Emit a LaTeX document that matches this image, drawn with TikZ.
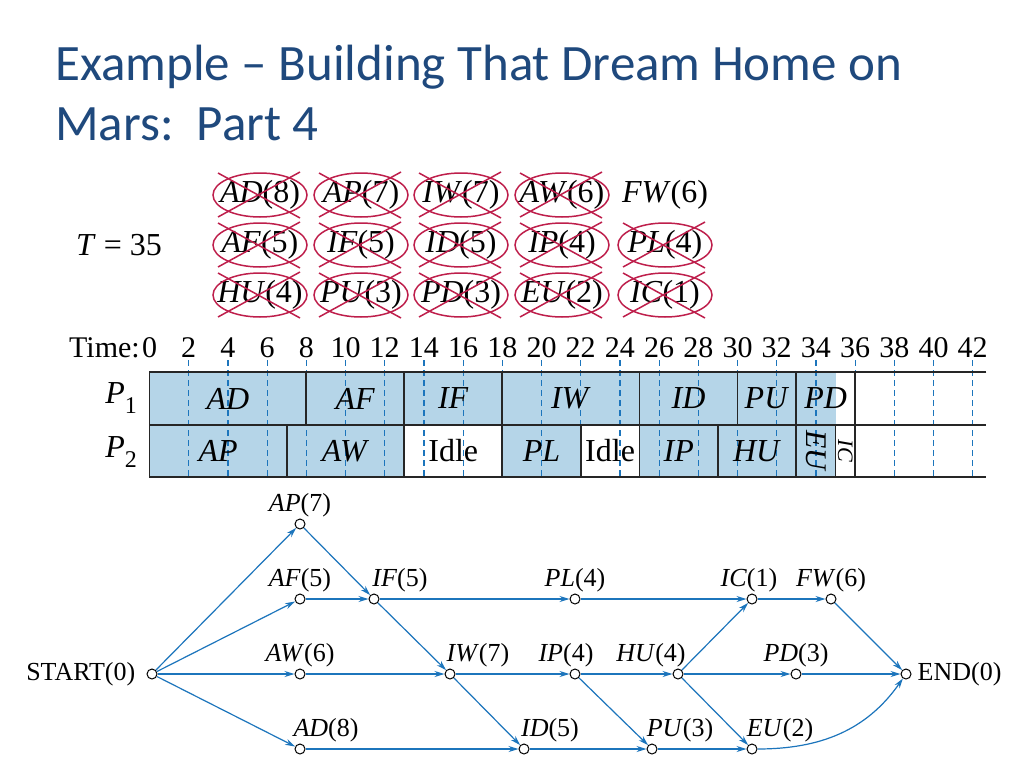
\documentclass[tikz,border=0pt]{standalone}
\usepackage{fontspec}
\setmainfont{Liberation Serif}
\newfontfamily\titlefont{Carlito}
\usetikzlibrary{
    arrows.meta,
    positioning
}
\definecolor{titleblue}{RGB}{31,73,125}
\definecolor{linkblue}{RGB}{28,117,188}
\definecolor{busyblue}{RGB}{181,213,232}
\definecolor{strikered}{RGB}{190,30,75}

\tikzset{
    vertex/.style={circle,draw=black,fill=white,inner sep=0pt,minimum size=10pt,line width=1pt},
    link/.style={draw=linkblue,line width=1.2pt,-{Stealth[length=10pt,width=6pt]}},
    tag/.style={font=\fontsize{26}{26}\selectfont,inner sep=1pt,label distance=0pt},
    item/.style={font=\fontsize{32}{32}\selectfont,inner sep=1pt},
    strike/.style={draw=strikered,line width=1.5pt},
    task/.style={font=\fontsize{32}{32}\selectfont,inner sep=0pt},
    frame/.style={draw=black!85,line width=1.8pt},
    gridline/.style={draw=linkblue,line width=1.2pt,dash pattern=on 6pt off 4pt}
}

\begin{document}
\begin{tikzpicture}[x=1pt,y=-1pt]
    \useasboundingbox (0,0) rectangle (1024,768);
    \fill[white] (0,0) rectangle (1024,768);

    % title
    \node[anchor=base west,inner sep=0pt,text=titleblue,font=\titlefont\fontsize{51}{51}\selectfont]
        (title1) at (55,80) {Example \textendash{} Building That Dream Home on};
    \node[anchor=base west,inner sep=0pt,text=titleblue,font=\titlefont\fontsize{51}{51}\selectfont]
        (title2) at (55,140) {Mars:\ \ Part 4};

    % priority list
    \node[item] (tval) at (119,245) {\textit{T} = 35};
    \foreach \cx/\name/\dur in {260/AD/8,361/AP/7,461/IW/7,562/AW/6,665/FW/6}
        \node[item] (q\name) at (\cx,195) {\textit{\name}(\dur)};
    \foreach \cx/\name/\dur in {260/AF/5,361/IF/5,461/ID/5,562/IP/4,665/PL/4}
        \node[item] (q\name) at (\cx,245) {\textit{\name}(\dur)};
    \foreach \cx/\name/\dur in {260/HU/4,361/PU/3,461/PD/3,562/EU/2,665/IC/1}
        \node[item] (q\name) at (\cx,295) {\textit{\name}(\dur)};
    \foreach \name in {AD,AP,IW,AW,AF,IF,ID,IP,PL,HU,PU,PD,EU,IC} {
        \draw[strike] (q\name.center) ellipse (47 and 22);
        \draw[strike] ([shift={(-42,-22)}]q\name.center) -- ([shift={(40,23)}]q\name.center)
                      ([shift={(-42,22)}]q\name.center) -- ([shift={(40,-23)}]q\name.center);
    }

    % schedule
    \node[anchor=base east,inner sep=0pt,font=\fontsize{30}{30}\selectfont] (timelbl) at (140,357) {Time:};
    \node[anchor=east,inner sep=0pt,font=\fontsize{32}{32}\selectfont] (p1) at (137,398)
        {\textit{P}\raisebox{-0.3em}{\fontsize{24}{24}\selectfont 1}};
    \node[anchor=east,inner sep=0pt,font=\fontsize{32}{32}\selectfont] (p2) at (137,452)
        {\textit{P}\raisebox{-0.3em}{\fontsize{24}{24}\selectfont 2}};
    \begin{scope}[xshift=149.5pt,x=19.6pt]
        \fill[busyblue] (0,372) rectangle (35,425);
        \fill[busyblue] (0,425) rectangle (13,477) (18,425) rectangle (22,477) (25,425) rectangle (35,477);
        \foreach \t in {2,4,...,42}
            \draw[gridline] (\t,360) -- (\t,477);
        \foreach \t in {0,2,...,42}
            \node[anchor=base,inner sep=0pt,font=\fontsize{30}{30}\selectfont] (t\t) at (\t,357) {\t};
        \draw[frame] (42.7,372) -- (0,372) -- (0,477) -- (42.7,477) (0,425) -- (42.7,425);
        \foreach \t in {8,13,18,25,30,33,36}
            \draw[frame] (\t,372) -- (\t,425);
        \foreach \t in {7,13,18,22,25,29,33,35,36}
            \draw[frame] (\t,425) -- (\t,477);
        \foreach \t/\name in {4/AD,10.5/AF,15.5/IF,21.5/IW,27.5/ID,31.5/PU,34.5/PD}
            \node[task] (r1\name) at (\t,398.5) {\textit{\name}};
        \foreach \t/\name in {3.5/AP,10/AW,20/PL,27/IP,31/HU}
            \node[task] (r2\name) at (\t,451) {\textit{\name}};
        \node[task] (idle1) at (15.5,451) {Idle};
        \node[task] (idle2) at (23.5,451) {Idle};
        \node[task,rotate=-90,font=\fontsize{30}{30}\selectfont] (r2EU) at (34,451) {\textit{EU}};
        \node[task,rotate=-90,font=\fontsize{22}{22}\selectfont] (r2IC) at (35.5,451) {\textit{IC}};
    \end{scope}

    % precedence network
    \node[vertex,label={[tag,label distance=10pt]left:START(0)}] (start) at (152,674) {};
    \node[vertex,label={[tag]above:\textit{AP}(7)}] (ap) at (300,524) {};
    \node[vertex,label={[tag]above:\textit{AF}(5)}] (af) at (300,599) {};
    \node[vertex,label={[tag]above:\textit{AW}(6)}] (aw) at (300,674) {};
    \node[vertex,label={[tag,xshift=26pt]above:\textit{AD}(8)}] (ad) at (300,749) {};
    \node[vertex,label={[tag,xshift=26pt]above:\textit{IF}(5)}] (if) at (374,599) {};
    \node[vertex,label={[tag,xshift=28pt]above:\textit{IW}(7)}] (iw) at (450,674) {};
    \node[vertex,label={[tag,xshift=26pt]above:\textit{ID}(5)}] (id) at (524,749) {};
    \node[vertex,label={[tag]above:\textit{PL}(4)}] (pl) at (575,599) {};
    \node[vertex,label={[tag,xshift=-9pt]above:\textit{IP}(4)}] (ip) at (575,674) {};
    \node[vertex,label={[tag,xshift=-27pt]above:\textit{HU}(4)}] (hu) at (678,674) {};
    \node[vertex,label={[tag,xshift=28pt]above:\textit{PU}(3)}] (pu) at (652,749) {};
    \node[vertex,label={[tag,xshift=28pt]above:\textit{EU}(2)}] (eu) at (752,749) {};
    \node[vertex,label={[tag,xshift=-3pt]above:\textit{IC}(1)}] (ic) at (752,599) {};
    \node[vertex,label={[tag]above:\textit{FW}(6)}] (fw) at (831,599) {};
    \node[vertex,label={[tag]above:\textit{PD}(3)}] (pd) at (796,674) {};
    \node[vertex,label={[tag,label distance=5pt]right:END(0)}] (end) at (906,674) {};

    \foreach \a/\b in {start/ap,start/af,start/aw,start/ad,ap/if,af/if,if/pl,if/iw,aw/iw,
                       iw/ip,iw/id,ad/id,pl/ic,ip/hu,ip/pu,id/pu,hu/ic,hu/pd,hu/eu,pu/eu,
                       ic/fw,fw/end,pd/end}
        \draw[link] (\a) -- (\b);
    \draw[link] (eu) to[out=0,in=-125] (end);
\end{tikzpicture}
\end{document}
